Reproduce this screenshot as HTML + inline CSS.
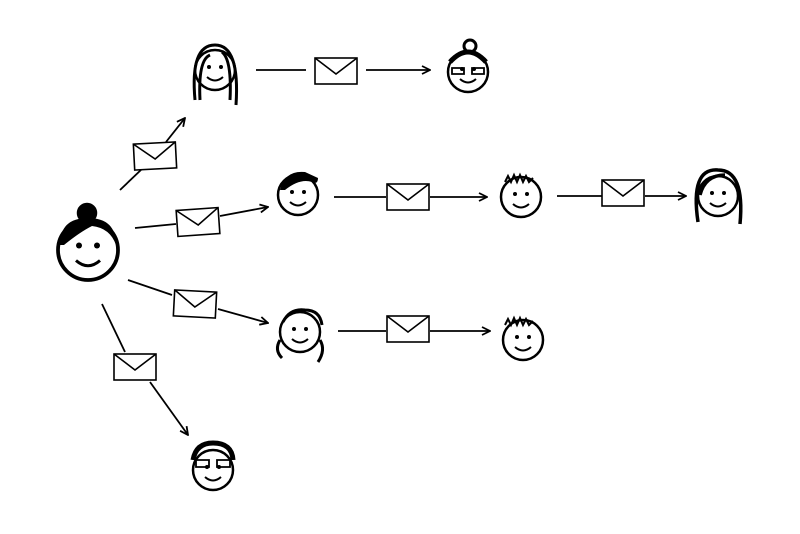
<!DOCTYPE html>
<html><head><style>html,body{margin:0;padding:0;background:#fff}svg{display:block}</style></head>
<body>
<svg width="800" height="534" viewBox="0 0 800 534" xmlns="http://www.w3.org/2000/svg">
<defs>
<marker id="ah" markerWidth="10" markerHeight="10" refX="9" refY="5" orient="auto" markerUnits="userSpaceOnUse">
<path d="M1,1 L9,5 L1,9" fill="none" stroke="#000" stroke-width="1.8"/>
</marker>
<g id="env"><rect x="-21" y="-13" width="42" height="26" fill="#fff" stroke="#000" stroke-width="1.6"/><path d="M-21,-13 L0,3 L21,-13" fill="none" stroke="#000" stroke-width="1.6"/></g>
<g id="face"><circle r="20" fill="#fff" stroke="#000" stroke-width="2.5"/><circle cx="-6" cy="-3" r="2"/><circle cx="6" cy="-3" r="2"/><path d="M-8,7 Q0,14 8,7" fill="none" stroke="#000" stroke-width="2"/></g>
</defs>
<g stroke="#000" stroke-width="1.8" fill="none">
<line x1="120" y1="190" x2="143" y2="168"/><line x1="166" y1="142" x2="185" y2="118" marker-end="url(#ah)"/>
<line x1="256" y1="70" x2="306" y2="70"/><line x1="366" y1="70" x2="430" y2="70" marker-end="url(#ah)"/>
<line x1="135" y1="228" x2="176" y2="224"/><line x1="220" y1="216" x2="268" y2="207" marker-end="url(#ah)"/>
<line x1="334" y1="197" x2="386" y2="197"/><line x1="430" y1="197" x2="487" y2="197" marker-end="url(#ah)"/>
<line x1="557" y1="196" x2="602" y2="196"/><line x1="645" y1="196" x2="686" y2="196" marker-end="url(#ah)"/>
<line x1="128" y1="280" x2="172" y2="295"/><line x1="218" y1="309" x2="268" y2="323" marker-end="url(#ah)"/>
<line x1="338" y1="331" x2="386" y2="331"/><line x1="430" y1="331" x2="490" y2="331" marker-end="url(#ah)"/>
<line x1="102" y1="304" x2="125" y2="352"/><line x1="150" y1="382" x2="188" y2="435" marker-end="url(#ah)"/>
</g>
<use href="#env" transform="translate(155,156) rotate(-3)"/>
<use href="#env" transform="translate(336,71)"/>
<use href="#env" transform="translate(198,222) rotate(-4)"/>
<use href="#env" transform="translate(408,197)"/>
<use href="#env" transform="translate(623,193)"/>
<use href="#env" transform="translate(195,304) rotate(3)"/>
<use href="#env" transform="translate(408,329)"/>
<use href="#env" transform="translate(135,367)"/>
<circle cx="87" cy="213" r="9" fill="#000" stroke="#000" stroke-width="2.5"/>
<g transform="translate(88,250) scale(1.5)"><use href="#face"/></g>
<path d="M60,245 Q60,218 88,218 Q116,218 116,245 Q110,228 92,226 Q80,232 64,245Z" fill="#000"/>
<g transform="translate(215,70)"><use href="#face"/></g>
<path d="M195,100 Q190,45 215,45 Q240,45 236,105 M200,100 Q198,60 210,55 M230,100 Q232,60 222,52" fill="none" stroke="#000" stroke-width="3"/>
<g transform="translate(468,72)"><use href="#face"/></g>
<path d="M450,62 Q468,42 486,62" fill="none" stroke="#000" stroke-width="5"/><circle cx="470" cy="46" r="6" fill="none" stroke="#000" stroke-width="3"/>
<path d="M452,68 h12 v6 h-12z M472,68 h12 v6 h-12z" fill="none" stroke="#000" stroke-width="1.8"/>
<g transform="translate(298,195)"><use href="#face"/></g>
<path d="M280,190 Q285,170 305,172 L318,178 Q318,185 312,182 Q300,178 285,190Z" fill="#000"/>
<g transform="translate(521,197)"><use href="#face"/></g>
<path d="M505,182 l3,-6 l3,6 l3,-7 l3,7 l3,-7 l3,7 l3,-6 l3,6 l4,-4" fill="none" stroke="#000" stroke-width="2"/>
<g transform="translate(718,196)"><use href="#face"/></g>
<path d="M698,222 Q690,168 718,170 Q745,170 740,224 M700,195 Q705,175 725,175" fill="none" stroke="#000" stroke-width="3.5"/>
<g transform="translate(300,332)"><use href="#face"/></g>
<path d="M280,340 q-6,10 2,18 M320,340 q6,10 -2,22 M283,322 Q290,308 305,310 Q320,310 322,325" fill="none" stroke="#000" stroke-width="3"/>
<g transform="translate(523,340)"><use href="#face"/></g>
<path d="M505,325 l3,-6 l3,6 l3,-7 l3,7 l3,-7 l3,7 l3,-6 l3,6 l4,-4" fill="none" stroke="#000" stroke-width="2"/>
<g transform="translate(213,470)"><use href="#face"/></g>
<path d="M193,460 Q196,443 213,443 Q232,443 233,460" fill="none" stroke="#000" stroke-width="5"/>
<path d="M196,460 h13 v7 h-13z M217,460 h13 v7 h-13z" fill="none" stroke="#000" stroke-width="1.8"/>
</svg>
</body></html>
